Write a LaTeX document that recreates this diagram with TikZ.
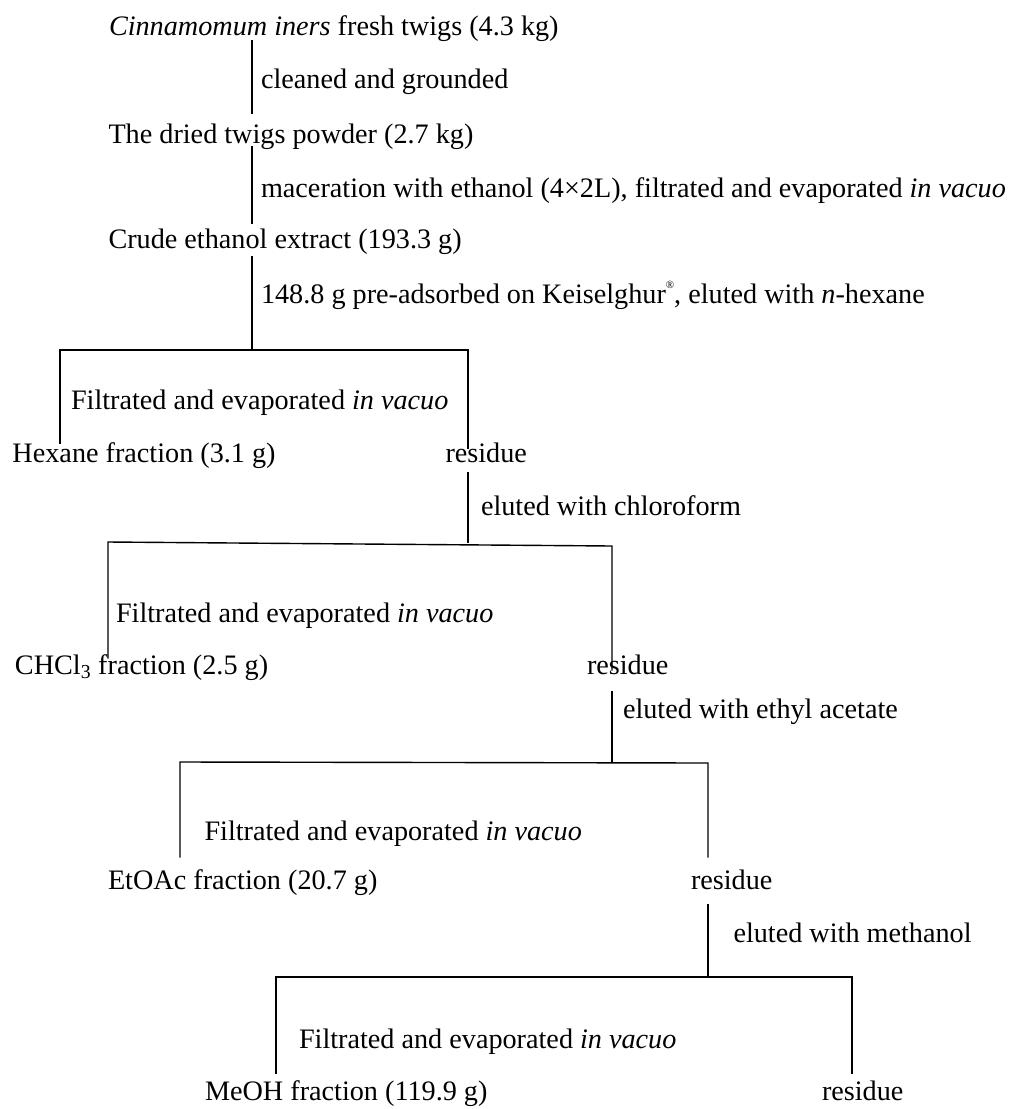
\documentclass[tikz,border=0pt]{standalone}
\usepackage{fontspec}
\setmainfont{Liberation Serif}
\begin{document}
\begin{tikzpicture}[x=1pt,y=-1pt,
  lbl/.style={anchor=base west,inner sep=0pt,outer sep=0pt,font=\fontsize{28.2}{34}\selectfont},
  conn/.style={line width=1.4pt,line cap=rect}]
\useasboundingbox (0,0) rectangle (1009,1109);
% texts
\node[lbl] (t1) at (109,35) {\textit{Cinnamomum iners} fresh twigs (4.3 kg)};
\node[lbl] (s1) at (261,88) {cleaned and grounded};
\node[lbl] (t2) at (108.5,143) {The dried twigs powder (2.7 kg)};
\node[lbl] (s2) at (261,197) {maceration with ethanol (4×2L), filtrated and evaporated \textit{in vacuo}};
\node[lbl] (t3) at (108.5,248) {Crude ethanol extract (193.3 g)};
\node[lbl] (s3) at (261,303) {148.8 g pre-adsorbed on Keiselghur\raisebox{0.5em}{\fontsize{11}{11}\selectfont ®}, eluted with \textit{n}-hexane};
\node[lbl] (f1) at (71,409) {Filtrated and evaporated \textit{in vacuo}};
\node[lbl] (hex) at (12.5,462) {Hexane fraction (3.1 g)};
\node[lbl] (r1) at (445.5,462) {residue};
\node[lbl] (s4) at (481,515) {eluted with chloroform};
\node[lbl] (f2) at (116,622) {Filtrated and evaporated \textit{in vacuo}};
\node[lbl] (chl) at (15,674) {CHCl\textsubscript{3} fraction (2.5 g)};
\node[lbl] (r2) at (587,674) {residue};
\node[lbl] (s5) at (623,718) {eluted with ethyl acetate};
\node[lbl] (f3) at (204.5,840) {Filtrated and evaporated \textit{in vacuo}};
\node[lbl] (eto) at (108,889) {EtOAc fraction (20.7 g)};
\node[lbl] (r3) at (691,889) {residue};
\node[lbl] (s6) at (733.5,942) {eluted with methanol};
\node[lbl] (f4) at (299,1048) {Filtrated and evaporated \textit{in vacuo}};
\node[lbl] (meo) at (205,1100) {MeOH fraction (119.9 g)};
\node[lbl] (r4) at (822,1100) {residue};
% line end points
\coordinate (a1) at (252,41);  \coordinate (a2) at (252,113);
\coordinate (b1) at (252,147); \coordinate (b2) at (252,223);
\coordinate (c1) at (252,257); \coordinate (c2) at (252,350);
\coordinate (h1l) at (60,350); \coordinate (h1r) at (468,350);
\coordinate (h1le) at (60,443); \coordinate (h1re) at (468,448);
\coordinate (d1) at (468,473); \coordinate (d2) at (468,542);
\coordinate (h2l) at (108,542); \coordinate (h2r) at (612,546);
\coordinate (h2le) at (108,658); \coordinate (h2re) at (612,670);
\coordinate (e1) at (612,692); \coordinate (e2) at (612,762);
\coordinate (h3l) at (180,762); \coordinate (h3r) at (708,763);
\coordinate (h3le) at (180,857); \coordinate (h3re) at (708,857);
\coordinate (g1) at (708,905); \coordinate (g2) at (708,977);
\coordinate (h4l) at (276,977); \coordinate (h4r) at (852,977);
\coordinate (h4le) at (276,1073); \coordinate (h4re) at (852,1073);
% connectors
\draw[conn] (a1) -- (a2);
\draw[conn] (b1) -- (b2);
\draw[conn] (c1) -- (c2);
\draw[conn] (h1le) -- (h1l) -- (h1r) -- (h1re);
\draw[conn] (d1) -- (d2);
\draw[conn] (h2le) -- (h2l) -- (h2r) -- (h2re);
\draw[conn] (e1) -- (e2);
\draw[conn] (h3le) -- (h3l) -- (h3r) -- (h3re);
\draw[conn] (g1) -- (g2);
\draw[conn] (h4le) -- (h4l) -- (h4r) -- (h4re);
\end{tikzpicture}
\end{document}
